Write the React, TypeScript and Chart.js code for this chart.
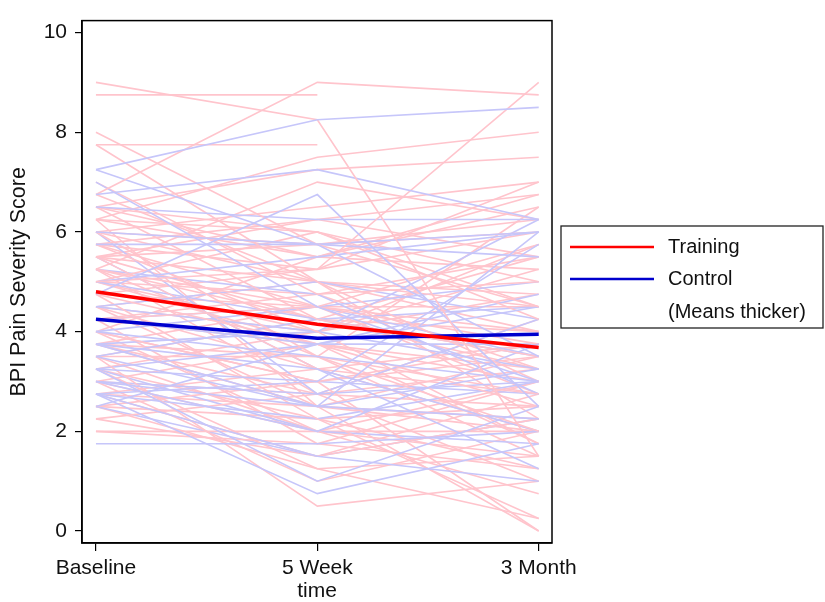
import React, { useEffect, useRef } from "react";
import { Chart, registerables } from "chart.js";

Chart.register(...registerables);

const timeLabels = ["Baseline", "5 Week", "3 Month"];
const yTickValues = [0, 2, 4, 6, 8, 10];

const trainingLines: (number | null)[][] = [
  [9.0, 8.25, 1.5],
  [8.75, 8.75, null],
  [6.75, 9.0, 8.75],
  [5.0, 5.25, 9.0],
  [8.0, 5.75, 4.5],
  [7.75, 7.75, null],
  [7.75, 5.0, 3.0],
  [5.25, 7.0, 6.25],
  [6.25, 7.5, 8.0],
  [6.5, 7.25, 7.5],
  [6.0, 6.5, 7.0],
  [5.75, 6.25, 6.75],
  [6.25, 5.5, 6.5],
  [7.0, 4.75, 5.0],
  [6.5, 4.25, 3.5],
  [6.0, 3.5, 2.0],
  [5.5, 5.75, 6.0],
  [5.25, 4.5, 5.75],
  [5.0, 6.0, 4.25],
  [4.75, 3.75, 2.5],
  [5.75, 4.0, 1.75],
  [5.5, 3.25, 2.75],
  [4.5, 5.0, 4.5],
  [4.25, 4.5, 3.75],
  [4.0, 3.0, 0.0],
  [4.75, 2.25, 0.25],
  [3.75, 2.5, 0.0],
  [3.5, 0.5, 1.0],
  [3.25, 1.25, 1.5],
  [3.0, 2.0, 3.0],
  [2.75, 1.5, 2.25],
  [2.5, 3.0, 3.5],
  [2.25, 2.75, 4.25],
  [2.0, 1.75, 1.25],
  [2.0, 2.0, 0.75],
  [3.5, 4.25, 5.5],
  [3.75, 3.5, 6.5],
  [4.0, 5.5, 5.25],
  [4.5, 3.25, 2.0],
  [5.0, 4.75, 3.25],
  [5.25, 2.75, 2.5],
  [4.25, 1.75, 3.0],
  [6.0, 5.0, 4.0],
  [5.75, 4.5, 2.75],
  [6.5, 6.0, 5.0],
  [3.0, 3.75, 1.75],
  [2.5, 2.25, 1.25],
  [3.25, 4.0, 4.75],
  [4.75, 5.25, 7.0],
  [5.5, 6.25, 5.5],
  [3.0, 1.0, 2.0],
  [2.75, 3.25, 3.75],
  [6.75, 5.0, 2.25],
  [4.0, 2.0, 1.5],
  [5.0, 3.75, 3.0],
  [6.25, 2.5, 3.5],
  [4.5, 4.0, 5.75],
  [3.5, 3.5, 2.75],
  [5.25, 4.25, 4.0],
  [6.0, 5.75, 6.25],
  [5.5, 5.0, 4.75],
  [4.25, 3.75, 3.25],
  [3.75, 4.5, 4.0],
  [4.5, 2.5, 2.25],
  [5.0, 4.0, 5.25],
  [3.25, 2.25, 2.5],
  [6.25, 6.0, 4.5],
  [2.25, 1.5, 2.75],
  [4.0, 3.0, 3.75],
  [5.75, 5.25, 6.0],
  [3.0, 2.75, 1.0],
  [4.75, 4.5, 4.5],
  [2.5, 1.25, 0.25],
  [5.5, 4.25, 3.25],
  [3.5, 2.0, 2.0],
  [6.5, 5.5, 6.75],
  [4.25, 4.75, 5.5],
  [2.75, 2.5, 2.0],
  [5.25, 3.5, 1.5],
  [3.75, 2.75, 3.25],
];

const controlLines: (number | null)[][] = [
  [7.25, 8.25, 8.5],
  [6.75, 7.25, 6.25],
  [4.75, 6.75, 2.5],
  [7.0, 4.5, 3.0],
  [7.25, 5.75, 3.5],
  [6.5, 6.25, 6.25],
  [6.0, 5.75, 5.5],
  [5.75, 5.75, 6.0],
  [5.0, 5.5, 6.0],
  [3.75, 2.5, 6.0],
  [3.25, 3.0, 5.75],
  [4.25, 3.75, 4.5],
  [4.0, 3.5, 3.0],
  [3.5, 2.5, 3.25],
  [3.0, 2.5, 2.25],
  [2.75, 1.5, 1.0],
  [1.75, 1.75, 2.0],
  [2.75, 0.75, 1.75],
  [3.25, 1.0, 2.5],
  [3.0, 2.0, 3.75],
  [3.75, 3.25, 1.25],
  [4.5, 5.0, 4.25],
  [2.5, 3.75, 4.75],
  [3.5, 4.25, 3.5],
  [5.25, 4.75, 2.75],
  [6.0, 2.75, 3.0],
  [4.0, 4.5, 5.0],
  [5.5, 3.25, 2.0],
  [2.75, 2.25, 3.0],
  [3.25, 3.75, 3.75],
  [3.0, 2.75, 4.25],
  [4.5, 4.0, 3.25],
  [2.75, 3.0, 2.75],
  [3.75, 4.0, 6.25],
  [5.0, 4.25, 4.5],
  [3.25, 2.0, 1.75],
  [4.25, 4.5, 3.5],
  [2.5, 1.5, 2.25],
];

const trainingMean = [4.8, 4.15, 3.68];
const controlMean = [4.25, 3.87, 3.95];

const FONT = "'Liberation Sans', Arial, Helvetica, sans-serif";
const PINK = "rgb(255,196,204)";
const LAVENDER = "rgb(198,198,250)";
const RED = "rgb(255,0,0)";
const BLUE = "rgb(0,0,205)";

function toPoints(vals: (number | null)[]) {
  const pts: { x: number; y: number }[] = [];
  vals.forEach((v, i) => {
    if (v !== null && v !== undefined) pts.push({ x: i, y: v });
  });
  return pts;
}

const boxAndLegend = {
  id: "boxAndLegend",
  afterDraw(chart: any) {
    const { ctx, chartArea } = chart;
    ctx.save();
    ctx.strokeStyle = "#000";
    ctx.lineWidth = 1.5;
    ctx.strokeRect(
      chartArea.left,
      chartArea.top,
      chartArea.right - chartArea.left,
      chartArea.bottom - chartArea.top
    );
    const lx = 561, ly = 226, lw = 262, lh = 102;
    ctx.lineWidth = 1.3;
    ctx.strokeStyle = "#222";
    ctx.strokeRect(lx, ly, lw, lh);
    const items = [
      { color: RED, text: "Training", y: 247 },
      { color: BLUE, text: "Control", y: 279 },
      { color: null, text: "(Means thicker)", y: 312 },
    ];
    ctx.font = `20px ${FONT}`;
    ctx.textBaseline = "middle";
    ctx.textAlign = "left";
    items.forEach((it) => {
      if (it.color) {
        ctx.beginPath();
        ctx.strokeStyle = it.color;
        ctx.lineWidth = 2.5;
        ctx.moveTo(570, it.y);
        ctx.lineTo(654, it.y);
        ctx.stroke();
      }
      ctx.fillStyle = "#111";
      ctx.fillText(it.text, 668, it.y);
    });
    ctx.restore();
  },
};

export default function App() {
  const ref = useRef<HTMLCanvasElement>(null);

  useEffect(() => {
    if (!ref.current) return;
    const datasets: any[] = [];
    datasets.push({
      data: toPoints(trainingMean),
      borderColor: RED,
      borderWidth: 3.5,
      pointRadius: 0,
      fill: false,
    });
    datasets.push({
      data: toPoints(controlMean),
      borderColor: BLUE,
      borderWidth: 3.5,
      pointRadius: 0,
      fill: false,
    });
    const n = Math.max(trainingLines.length, controlLines.length);
    for (let i = 0; i < n; i++) {
      if (i < controlLines.length)
        datasets.push({
          data: toPoints(controlLines[i]),
          borderColor: LAVENDER,
          borderWidth: 1.6,
          pointRadius: 0,
          fill: false,
        });
      if (i < trainingLines.length)
        datasets.push({
          data: toPoints(trainingLines[i]),
          borderColor: PINK,
          borderWidth: 1.6,
          pointRadius: 0,
          fill: false,
        });
    }

    const chart = new Chart(ref.current, {
      type: "line",
      data: { datasets },
      options: {
        animation: false,
        responsive: false,
        events: [],
        layout: { padding: { left: 0, top: 13, right: 273, bottom: 0 } },
        plugins: { legend: { display: false }, tooltip: { enabled: false } },
        scales: {
          x: {
            type: "linear",
            min: -0.063,
            max: 2.06,
            afterBuildTicks: (scale: any) => {
              scale.ticks = [0, 1, 2].map((v) => ({ value: v }));
            },
            afterFit: (scale: any) => {
              scale.height = 59;
            },
            ticks: {
              autoSkip: false,
              maxRotation: 0,
              padding: 5,
              color: "#111",
              font: { family: FONT, size: 21 },
              callback: (v: any) => timeLabels[v as number] ?? "",
            },
            grid: {
              drawOnChartArea: false,
              drawTicks: true,
              tickLength: 8,
              color: "#000",
              lineWidth: 1.2,
            },
            border: { display: true, color: "#000", width: 1.5 },
            title: {
              display: true,
              text: "time",
              color: "#111",
              font: { family: FONT, size: 21, lineHeight: 1 },
              padding: { top: 0, bottom: 0 },
            },
          },
          y: {
            type: "linear",
            min: -0.24,
            max: 10.24,
            afterBuildTicks: (scale: any) => {
              scale.ticks = yTickValues.map((v) => ({ value: v }));
            },
            afterFit: (scale: any) => {
              scale.width = 82;
            },
            ticks: {
              padding: 8,
              color: "#111",
              font: { family: FONT, size: 21 },
              callback: (v: any) => String(v),
            },
            grid: {
              drawOnChartArea: false,
              drawTicks: true,
              tickLength: 7,
              color: "#000",
              lineWidth: 1.2,
            },
            border: { display: true, color: "#000", width: 1.5 },
            title: {
              display: true,
              text: "BPI Pain Severity Score",
              color: "#111",
              font: { family: FONT, size: 21.5, lineHeight: 1.2 },
              padding: { top: 6, bottom: 0 },
            },
          },
        },
      },
      plugins: [boxAndLegend],
    });
    return () => chart.destroy();
  }, []);

  return (
    <div style={{ position: "absolute", left: 0, top: 0, width: 825, height: 602, background: "#fff" }}>
      <canvas ref={ref} width={825} height={602} style={{ display: "block" }} />
    </div>
  );
}
